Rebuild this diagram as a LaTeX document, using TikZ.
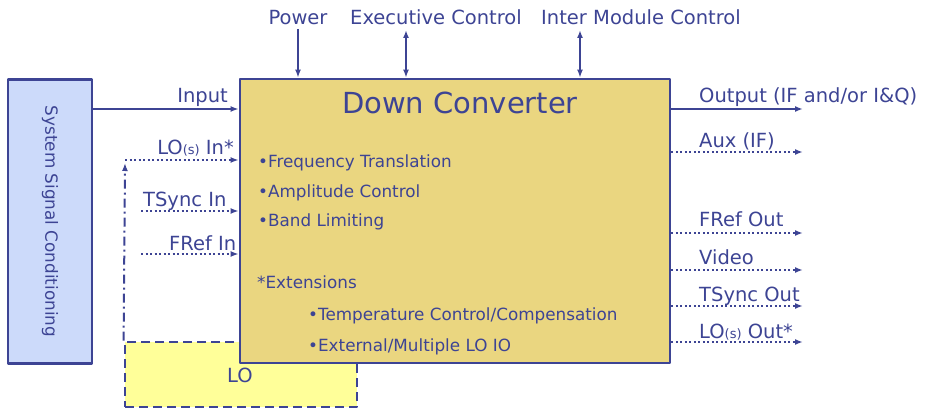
\documentclass[tikz,border=0pt]{standalone}
\usepackage{fontspec}
\setmainfont{DejaVu Sans}
\usetikzlibrary{arrows.meta}
\definecolor{ConvNavy}{HTML}{3D4494}
\definecolor{ConvGold}{HTML}{EAD680}
\definecolor{ConvBlue}{HTML}{CCDAFA}
\definecolor{ConvLemon}{HTML}{FFFF99}
\newcommand\losub{{\fontsize{13}{15}\selectfont(s)}}

\begin{document}
\begin{tikzpicture}[x=1pt,y=-1pt,line join=round,
  every node/.style={text=ConvNavy,inner sep=0pt,font=\fontsize{19.5}{22}\selectfont},
  inner/.style={anchor=base west,font=\fontsize{16.8}{20}\selectfont},
  block/.style={draw=ConvNavy,line width=2.8pt},
  sig/.style={draw=ConvNavy,line width=2pt,-{Latex[length=8pt,width=6pt]}},
  aux/.style={sig,dash pattern=on 2pt off 2.5pt},
  both/.style={sig,{Latex[length=8pt,width=6pt]}-{Latex[length=8pt,width=6pt]}},
  lodash/.style={sig,dash pattern=on 9pt off 4pt on 2pt off 4pt}]
  \useasboundingbox (0,0) rectangle (930,409);
  \node[block,fill=ConvBlue,minimum width=84pt,minimum height=284pt] (ssc) at (50,221.5) {};
  \node[rotate=-90,font=\fontsize{16.8}{20}\selectfont] (ssctxt) at (ssc.center) {System Signal Conditioning};
  \node[block,fill=ConvLemon,dash pattern=on 9pt off 5pt,minimum width=232pt,minimum height=65pt] (lo) at (241,374.5) {};
  \node[anchor=base] (lotxt) at (240,382) {LO};
  \coordinate (loin) at (125,160);\coordinate (loup) at (125,163);
  \draw[lodash] (lo.north west) -- (loup);
  \node[anchor=base east] (inlbl) at (228,103) {Input};
  \node[anchor=base east] (loinlbl) at (234,155) {LO\losub{} In*};
  \node[anchor=base west] (tsinlbl) at (143,207) {TSync In};
  \node[anchor=base west] (frinlbl) at (169,251) {FRef In};
  \node[block,fill=ConvGold,minimum width=430pt,minimum height=284pt] (dc) at (455,221) {};
  \node[anchor=base,font=\fontsize{29}{34}\selectfont] (title) at (460,114) {Down Converter};
  \node[inner] (l1) at (258,168) {•Frequency Translation};
  \node[inner] (l2) at (258,198) {•Amplitude Control};
  \node[inner] (l3) at (258,227) {•Band Limiting};
  \node[inner] (l4) at (257,288) {*Extensions};
  \node[inner] (l5) at (308,320) {•Temperature Control/Compensation};
  \node[inner] (l6) at (308,351) {•External/Multiple LO IO};
  \coordinate (pw) at (298,29);\coordinate (ex) at (406,30);\coordinate (im) at (580,30);
  \draw[sig] (pw) -- (pw |- dc.north);\draw[both] (ex) -- (ex |- dc.north);\draw[both] (im) -- (im |- dc.north);
  \node[anchor=base] (pwlbl) at (298,25) {Power};
  \node[anchor=base] (exlbl) at (436,25) {Executive Control};
  \node[anchor=base] (imlbl) at (641,25) {Inter Module Control};
  \coordinate (inp) at (0,109);\coordinate (tsin) at (141,211);\coordinate (frin) at (141,254);
  \draw[sig] (ssc.east |- inp) -- (dc.west |- inp);
  \draw[aux] (loin) -- (dc.west |- loin);
  \draw[aux] (tsin) -- (dc.west |- tsin);\draw[aux] (frin) -- (dc.west |- frin);
  \coordinate (out) at (803,109);
  \draw[sig] (dc.east |- out) -- (out);
  \node[anchor=base west] (outlbl) at (699,103) {Output (IF and/or I\&Q)};
  \foreach \n/\y/\b/\t in {axif/152/148/Aux (IF),frout/233/227/FRef Out,video/270/265/Video,tsout/306/301/TSync Out,loout/342/338/LO\losub{} Out*}{
    \coordinate (\n) at (803,\y);
    \draw[aux] (dc.east |- \n) -- (\n);
    \node[anchor=base west] (\n lbl) at (699,\b) {\t};
  }
\end{tikzpicture}
\end{document}
